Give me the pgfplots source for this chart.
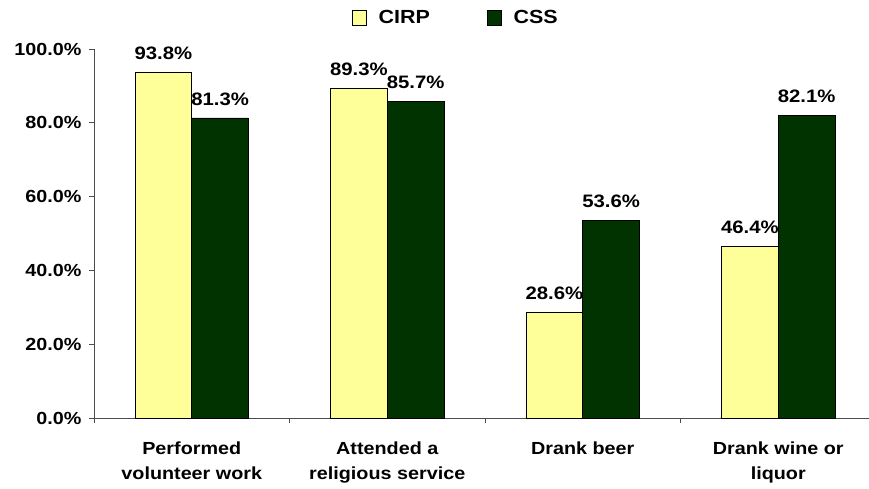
\documentclass[border=0pt]{standalone}
\usepackage{fontspec}
\setmainfont{Liberation Sans}[FakeStretch=1.13]
\usepackage{pgfplots}
\pgfplotsset{compat=1.18}
\definecolor{cirp}{HTML}{FFFF99}
\definecolor{css}{HTML}{003300}
\begin{document}
\begin{tikzpicture}[x=1pt,y=1pt]
\path[use as bounding box] (-94pt,-71pt) rectangle (775pt,418pt);
\begin{axis}[
  at={(0pt,0pt)}, anchor=south west,
  scale only axis,
  width=775pt, height=369pt,
  xmin=-0.5, xmax=3.464,
  ymin=0, ymax=100,
  axis lines=left,
  axis line style={black!70, line width=0.8pt, -},
  ybar, bar width=0.29,
  xtick={0,1,2,3},
  xticklabels={{Performed\\volunteer work},{Attended a\\religious service},{Drank beer},{Drank wine or\\liquor}},
  major x tick style={draw=none},
  minor xtick={-0.5,0.5,1.5,2.5},
  minor x tick style={black!70, line width=0.8pt},
  minor tick length=5pt,
  tick align=outside,
  ytick={0,20,40,60,80,100},
  major y tick style={black!70, line width=0.8pt},
  major tick length=5pt,
  /pgf/number format/assume math mode=true,
  yticklabel={\pgfmathprintnumber[fixed,fixed zerofill,precision=1]{\tick}\%},
  yticklabel style={font=\fontsize{17.5}{20}\selectfont\bfseries, xshift=-4pt},
  xticklabel style={font=\fontsize{17.5}{25.5}\selectfont\bfseries, align=center, anchor=north, yshift=-15pt},
  nodes near coords={\pgfmathprintnumber[fixed,fixed zerofill,precision=1]{\pgfplotspointmeta}\%},
  every node near coord/.append style={font=\fontsize{18}{20}\selectfont\bfseries, anchor=south, yshift=9pt, black},
  legend style={at={(0.467,1.084)}, anchor=center, draw=none, fill=none,
    font=\fontsize{19}{22}\selectfont\bfseries, legend columns=2,
    /tikz/every odd column/.append style={column sep=10pt},
    /tikz/every even column/.append style={column sep=55pt}},
  legend image code/.code={\draw[#1, draw=black, line width=0.6pt] (0pt,-7.5pt) rectangle (14pt,7.5pt);},
  clip=false,
]
\addplot[fill=cirp, draw=black, line width=0.6pt, bar shift=-0.145] coordinates {(0,93.8) (1,89.3) (2,28.6) (3,46.4)};
\addplot[fill=css, draw=black, line width=0.6pt, bar shift=0.145] coordinates {(0,81.3) (1,85.7) (2,53.6) (3,82.1)};
\legend{CIRP,CSS}
\end{axis}
\end{tikzpicture}
\end{document}
